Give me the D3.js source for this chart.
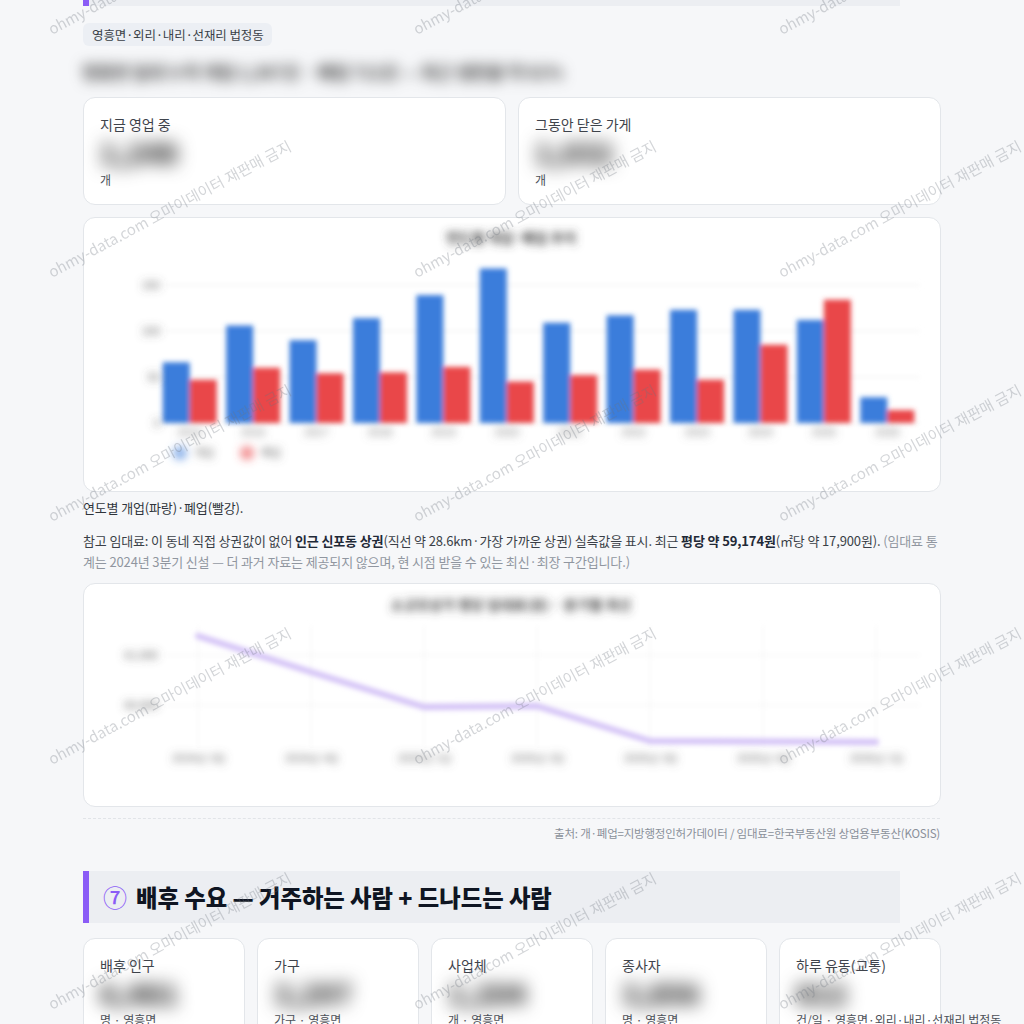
<!DOCTYPE html>
<html><head><meta charset="utf-8">
<script src="https://cdn.jsdelivr.net/npm/d3@7"></script>
<style>
html,body{margin:0;padding:0;width:1024px;height:1024px;overflow:hidden;background:#f6f7f9;font-family:"Noto Sans CJK KR","Noto Sans",sans-serif;color:#374151;}
.abs{position:absolute;white-space:nowrap;}
.card{position:absolute;background:#fff;border:1px solid #e3e6ea;border-radius:12px;box-sizing:border-box;}
.lbl{position:absolute;font-size:14px;color:#3f444c;line-height:20px;white-space:nowrap;}
.unit{position:absolute;font-size:12px;color:#4b5058;line-height:16px;white-space:nowrap;}
.num{position:absolute;font-size:28px;font-weight:900;color:#222;filter:blur(9px);line-height:30px;white-space:nowrap;}
.blurline{filter:blur(7px);color:#333;font-size:17px;font-weight:700;}
</style></head>
<body>
<script>
// ---- data ----
const years = ['2015','2016','2017','2018','2019','2020','2021','2022','2023','2024','2025','2026'];
const opened = [66,106,90,114,139,168,109,117,123,123,112,28];
const closed = [47,60,54,55,61,45,52,58,47,85,134,14];
const barTicks = [0,50,100,150];
const seriesNames = ['개업','폐업'];
const quarters = ['2024년 3Q','2024년 4Q','2025년 1Q','2025년 2Q','2025년 3Q','2025년 4Q','2026년 1Q'];
const rent = [61380,60660,59960,59980,59280,59270,59260];
const rentTicks = [60000,61000];
const bottomLabels = ['배후 인구','가구','사업체','종사자','하루 유동(교통)'];
const bottomUnits = ['명 · 영흥면','가구 · 영흥면','개 · 영흥면','명 · 영흥면','건/일 · 영흥면·외리·내리·선재리 법정동'];
const bottomNums = ['6,481','3,297','1,204','3,856','812'];

const body = d3.select('body');
function div(cls, x, y, html, style){ return body.append('div').attr('class',cls).attr('style', `left:${x}px;top:${y}px;` + (style||'')).html(html); }

// top section header (scrolled off)
div('abs',83,-46,'', 'width:817px;height:52px;background:#eceef2;');
div('abs',83,-46,'', 'width:6px;height:52px;background:#8b5cf6;');
// tag pill
div('abs',83,23,'영흥면·외리·내리·선재리 법정동','height:23px;line-height:23px;padding:0 8px 0 9px;background:#eceff4;border-radius:6px;font-size:12.5px;letter-spacing:-0.1px;color:#3a3f47;');
// blurred summary line
div('abs blurline',82,59,'영흥면 일대 누적 개업 1,367곳 · 폐업 712곳 — 최근 생존율 약 61%','line-height:26px;');

// two KPI cards
[[83,'지금 영업 중','1,248'],[518,'그동안 닫은 가게','1,032']].forEach(([x,l,n])=>{
  div('card',x,97,'','width:423px;height:108px;');
  div('lbl',x+17,114,l);
  div('num',x+17,137,n);
  div('unit',x+17,172,'개');
});
// chart cards
div('card',83,217,'','width:858px;height:275px;');
div('abs',83,499,'연도별 개업(파랑)·폐업(빨강).','font-size:13px;letter-spacing:-0.15px;color:#2f343b;line-height:18px;');
div('abs',83,531,'참고 임대료: 이 동네 직접 상권값이 없어 <b style="color:#1f2937">인근 신포동 상권</b>(직선 약 28.6km·가장 가까운 상권) 실측값을 표시. 최근 <b style="color:#1f2937">평당 약 59,174원</b>(㎡당 약 17,900원). <span style="color:#9096a0">(임대료 통</span>','font-size:13px;letter-spacing:-0.14px;color:#3a3f47;line-height:20px;');
div('abs',83,552,'<span style="color:#9096a0">계는 2024년 3분기 신설 — 더 과거 자료는 제공되지 않으며, 현 시점 받을 수 있는 최신·최장 구간입니다.)</span>','font-size:13px;letter-spacing:-0.14px;line-height:20px;');
div('card',83,583,'','width:858px;height:224px;');
div('abs',83,818,'','width:857px;height:0;border-top:1px dashed #e1e4e8;');
div('abs',0,824,'출처: 개·폐업=지방행정인허가데이터 / 임대료=한국부동산원 상업용부동산(KOSIS)','width:940px;text-align:right;font-size:11.5px;letter-spacing:-0.2px;color:#8a9099;line-height:18px;');

// section 7 header
div('abs',83,871,'','width:817px;height:52px;background:#eceef2;');
div('abs',83,871,'','width:6px;height:52px;background:#8b5cf6;');
div('abs',103,880,'<span style="color:#8b5cf6;font-weight:500;font-size:24px;margin-right:9px">⑦</span>배후 수요 — 거주하는 사람 + 드나드는 사람','font-size:23.3px;font-weight:900;color:#0f1522;line-height:34px;');

// bottom cards
bottomLabels.forEach((l,i)=>{
  const x = 83 + i*174;
  div('card',x,938,'','width:162px;height:120px;');
  div('lbl',x+17,955,l);
  div('num',x+17,978,bottomNums[i]);
  div('unit',x+17,1012,bottomUnits[i]);
});

// ---- charts svg ----
const svg = body.append('svg').attr('width',1024).attr('height',1024).style('position','absolute').style('left',0).style('top',0);
const defs = svg.append('defs');
defs.append('filter').attr('id','b1').attr('x','-20%').attr('y','-20%').attr('width','140%').attr('height','140%')
  .append('feGaussianBlur').attr('stdDeviation',2.8);
defs.append('filter').attr('id','b2').attr('x','-20%').attr('y','-50%').attr('width','140%').attr('height','200%')
  .append('feGaussianBlur').attr('stdDeviation',4);

// bar chart
const bx = d3.scaleBand().domain(years).range([158,919]).padding(0);
const by = d3.scaleLinear().domain([0,150]).range([423,285]);
const bw = 27;
const gBar = svg.append('g');
const gGrid = gBar.append('g').attr('filter','url(#b1)');
barTicks.forEach(t=>gGrid.append('line').attr('x1',165).attr('x2',920).attr('y1',by(t)).attr('y2',by(t)).attr('stroke','#ececec').attr('stroke-width',1));
const gBars = gBar.append('g').attr('filter','url(#b1)');
gBars.selectAll('rect.o').data(years).join('rect').attr('x',d=>bx(d)+bx.bandwidth()/2-bw).attr('width',bw)
  .attr('y',(d,i)=>by(opened[i])).attr('height',(d,i)=>by(0)-by(opened[i])).attr('fill','#3b7ddb');
gBars.selectAll('rect.c').data(years).join('rect').attr('x',d=>bx(d)+bx.bandwidth()/2).attr('width',bw)
  .attr('y',(d,i)=>by(closed[i])).attr('height',(d,i)=>by(0)-by(closed[i])).attr('fill','#e94649');
const gTxt = gBar.append('g').attr('filter','url(#b2)').style('font-family','"Noto Sans CJK KR",sans-serif');
const yAx = gTxt.append('g').attr('transform','translate(160,0)').call(d3.axisLeft(by).tickValues(barTicks).tickSize(0).tickPadding(0));
yAx.select('.domain').remove();
yAx.selectAll('text').attr('font-size',11).attr('fill','#555');
const xAx = gTxt.append('g').attr('transform','translate(0,426)').call(d3.axisBottom(bx).tickSize(0).tickPadding(2));
xAx.select('.domain').remove();
xAx.selectAll('text').attr('font-size',11).attr('fill','#777');
gTxt.append('text').attr('x',511).attr('y',243).attr('text-anchor','middle').attr('font-size',14).attr('font-weight',700).attr('fill','#444').text('연도별 개업·폐업 추이');
const legColors = ['#3b7ddb','#e94649'];
seriesNames.forEach((s,i)=>{
  const lx = 180 + i*67;
  gTxt.append('circle').attr('cx',lx).attr('cy',453).attr('r',7).attr('fill',legColors[i]).attr('opacity',0.6);
  gTxt.append('text').attr('x',lx+14).attr('y',457).attr('font-size',11).attr('fill','#666').text(s);
});

// line chart
const lx = d3.scalePoint().domain(quarters).range([198,876]);
const ly = d3.scaleLinear().domain([59100,61600]).range([750,625]);
const gLine = svg.append('g');
const gLG = gLine.append('g').attr('filter','url(#b1)');
rentTicks.forEach(t=>gLG.append('line').attr('x1',165).attr('x2',920).attr('y1',ly(t)).attr('y2',ly(t)).attr('stroke','#f0f0f0'));
quarters.forEach(q=>gLG.append('line').attr('x1',lx(q)).attr('x2',lx(q)).attr('y1',625).attr('y2',748).attr('stroke','#f3f3f3'));
gLine.append('path').datum(rent).attr('filter','url(#b1)')
  .attr('d',d3.line().x((d,i)=>lx(quarters[i])).y(d=>ly(d)))
  .attr('fill','none').attr('stroke','#d2c0f6').attr('stroke-width',6).attr('stroke-linejoin','round').attr('stroke-linecap','round');
const gLT = gLine.append('g').attr('filter','url(#b2)').style('font-family','"Noto Sans CJK KR",sans-serif');
const lyAx = gLT.append('g').attr('transform','translate(158,0)').call(d3.axisLeft(ly).tickValues(rentTicks).tickSize(0).tickPadding(0).tickFormat(d3.format(',')));
lyAx.select('.domain').remove();
lyAx.selectAll('text').attr('font-size',11).attr('fill','#555');
const lxAx = gLT.append('g').attr('transform','translate(0,752)').call(d3.axisBottom(lx).tickSize(0).tickPadding(2));
lxAx.select('.domain').remove();
lxAx.selectAll('text').attr('font-size',11).attr('fill','#666');
gLT.append('text').attr('x',511).attr('y',610).attr('text-anchor','middle').attr('font-size',14).attr('font-weight',700).attr('fill','#444').text('소규모상가 평당 임대료(원) · 분기별 최신');

// watermark overlay
const wm = body.append('svg').attr('width',1024).attr('height',1024).style('position','absolute').style('left',0).style('top',0).style('pointer-events','none');
[35,278,522,765,1010].forEach(y=>[52,417,782].forEach(x=>{
  wm.append('text').attr('x',x).attr('y',y).attr('transform',`rotate(-28 ${x} ${y})`)
    .attr('font-size',15).attr('fill','rgba(110,115,125,0.30)').style('font-family','"Noto Sans CJK KR",sans-serif')
    .text('ohmy-data.com 오마이데이터 재판매 금지');
}));
</script>
</body></html>
